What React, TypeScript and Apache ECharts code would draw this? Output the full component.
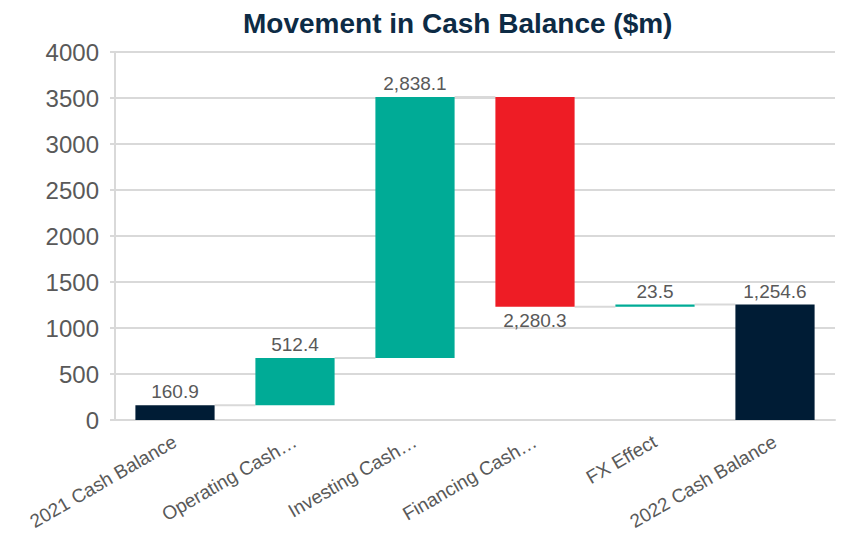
import React, { useEffect, useRef } from "react";
import * as echarts from "echarts";

const categories = [
  "2021 Cash Balance",
  "Operating Cash…",
  "Investing Cash…",
  "Financing Cash…",
  "FX Effect",
  "2022 Cash Balance",
];
const movements = [160.9, 512.4, 2838.1, -2280.3, 23.5, 1254.6];
const isTotal = [true, false, false, false, false, true];
const yTicks = [0, 4000, 500];

const NAVY = "#001C35";
const TEAL = "#00AB96";
const RED = "#EE1C25";
const BAR_FRAC = 0.66;

export default function App() {
  const ref = useRef<HTMLDivElement>(null);
  useEffect(() => {
    document.body.style.margin = "0";
    if (!ref.current) return;
    const chart = echarts.init(ref.current, undefined, { renderer: "svg" });

    const bases: number[] = [];
    const heights: number[] = [];
    const levels: number[] = [];
    let cum = 0;
    movements.forEach((m, i) => {
      if (isTotal[i]) {
        bases.push(0);
        heights.push(m);
        cum = m;
      } else if (m >= 0) {
        bases.push(cum);
        heights.push(m);
        cum += m;
      } else {
        cum += m;
        bases.push(cum);
        heights.push(-m);
      }
      levels.push(cum);
    });

    const fmt = (v: number) =>
      Math.abs(v).toLocaleString("en-US", { minimumFractionDigits: 1, maximumFractionDigits: 1 });

    const connectorData = levels.slice(0, -1).map((lv, i) => [i, lv]);

    chart.setOption({
      animation: false,
      title: {
        text: "Movement in Cash Balance ($m)",
        left: 238,
        top: 4,
        textStyle: {
          fontFamily: "Liberation Sans, Arial",
          fontWeight: "bold",
          fontSize: 28,
          color: "#0D2B45",
        },
      },
      grid: { left: 115, right: 6, top: 52, bottom: 116, containLabel: false },
      xAxis: {
        type: "category",
        data: categories,
        axisLine: { lineStyle: { color: "#d9d9d9", width: 2 } },
        axisTick: { show: false },
        axisLabel: {
          rotate: 30,
          interval: 0,
          color: "#595959",
          fontSize: 19,
          fontFamily: "Liberation Sans, Arial",
          margin: 20,
        },
      },
      yAxis: {
        type: "value",
        min: yTicks[0],
        max: yTicks[1],
        interval: yTicks[2],
        axisLine: { show: true, lineStyle: { color: "#d9d9d9", width: 2 } },
        axisTick: { show: true, length: 5, lineStyle: { color: "#d9d9d9", width: 2 } },
        splitLine: { lineStyle: { color: "#d9d9d9", width: 2 } },
        axisLabel: {
          color: "#595959",
          fontSize: 24,
          fontFamily: "Liberation Sans, Arial",
          margin: 16,
          formatter: (v: number) => String(v),
        },
      },
      series: [
        {
          type: "custom",
          z: 1,
          silent: true,
          data: connectorData,
          renderItem: (params: any, api: any) => {
            const i = api.value(0);
            const lv = api.value(1);
            const p1 = api.coord([i, lv]);
            const p2 = api.coord([i + 1, lv]);
            const bw = api.size([1, 0])[0] * BAR_FRAC;
            return {
              type: "line",
              shape: { x1: p1[0] + bw / 2, y1: p1[1], x2: p2[0] - bw / 2, y2: p2[1] },
              style: { stroke: "#d9d9d9", lineWidth: 2 },
            };
          },
        },
        {
          type: "bar",
          stack: "wf",
          data: bases,
          itemStyle: { color: "transparent" },
          barWidth: BAR_FRAC * 100 + "%",
          silent: true,
          z: 2,
        },
        {
          type: "bar",
          stack: "wf",
          z: 3,
          barWidth: BAR_FRAC * 100 + "%",
          data: heights.map((h, i) => ({
            value: h,
            itemStyle: {
              color: isTotal[i] ? NAVY : movements[i] >= 0 ? TEAL : RED,
            },
            label: {
              show: true,
              position: movements[i] >= 0 ? "top" : "bottom",
              formatter: () => fmt(movements[i]),
              color: "#595959",
              fontSize: 19,
              fontFamily: "Liberation Sans, Arial",
              distance: 4,
            },
          })),
        },
      ],
    });
    return () => chart.dispose();
  }, []);
  return <div ref={ref} style={{ width: 841, height: 536 }} />;
}
